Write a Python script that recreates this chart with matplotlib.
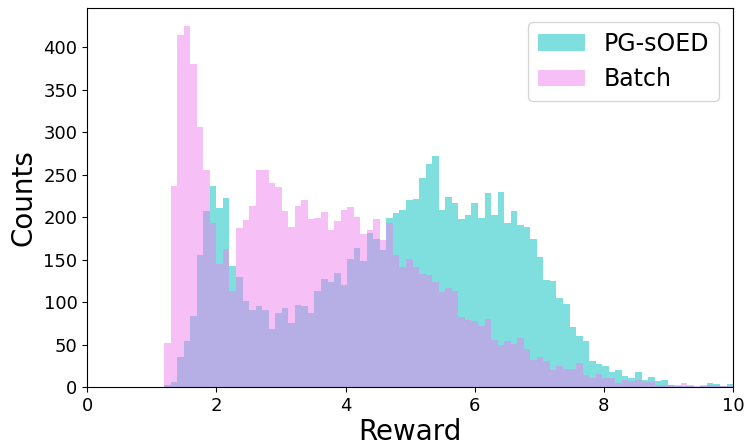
import numpy as np
import matplotlib
matplotlib.use('Agg')
import matplotlib.pyplot as plt

# histogram bin edges (87 bins from ~1.19 to 10)
bin_edges = np.linspace(1.19, 10.0, 88)

# counts per bin
pg_soed = [2, 6, 36, 54, 84, 156, 207, 237, 211, 223,
           143, 130, 101, 91, 95, 91, 68, 87, 93, 75,
           97, 95, 87, 113, 127, 124, 134, 120, 151, 164,
           149, 181, 174, 161, 199, 205, 209, 220, 222, 246,
           263, 272, 209, 224, 217, 198, 203, 217, 199, 229,
           203, 230, 193, 207, 191, 189, 174, 153, 126, 125,
           105, 98, 71, 60, 54, 31, 27, 25, 18, 20,
           13, 11, 18, 9, 12, 7, 9, 3, 1, 1,
           1, 0, 1, 5, 4, 1, 4]
batch = [52, 237, 415, 425, 380, 306, 256, 193, 145, 163,
         113, 187, 197, 213, 256, 255, 240, 235, 207, 189,
         213, 220, 198, 199, 206, 185, 195, 209, 212, 200,
         180, 185, 198, 173, 193, 156, 141, 151, 141, 133,
         132, 124, 112, 117, 113, 82, 79, 78, 72, 80,
         55, 50, 54, 51, 58, 45, 32, 36, 31, 20,
         25, 21, 21, 28, 14, 11, 15, 11, 11, 5,
         8, 7, 9, 6, 6, 3, 3, 2, 2, 5,
         2, 1, 2, 2, 2, 1, 1]

centers = 0.5 * (bin_edges[:-1] + bin_edges[1:])

fig = plt.figure(figsize=(7.45, 4.45), dpi=100)
ax = fig.add_axes([0.117, 0.130, 0.867, 0.852])

ax.hist(centers, bins=bin_edges, weights=pg_soed, color='c', alpha=0.5, label='PG-sOED')
ax.hist(centers, bins=bin_edges, weights=batch, color='violet', alpha=0.5, label='Batch')

ax.set_xlim(0, 10)
ax.set_yticks(np.arange(0, 401, 50))
ax.tick_params(labelsize=13)
ax.set_xlabel('Reward', fontsize=20, labelpad=2)
ax.set_ylabel('Counts', fontsize=20)
ax.legend(fontsize=17, loc='upper right', borderaxespad=0.6)

fig.savefig('out.png', dpi=100)
